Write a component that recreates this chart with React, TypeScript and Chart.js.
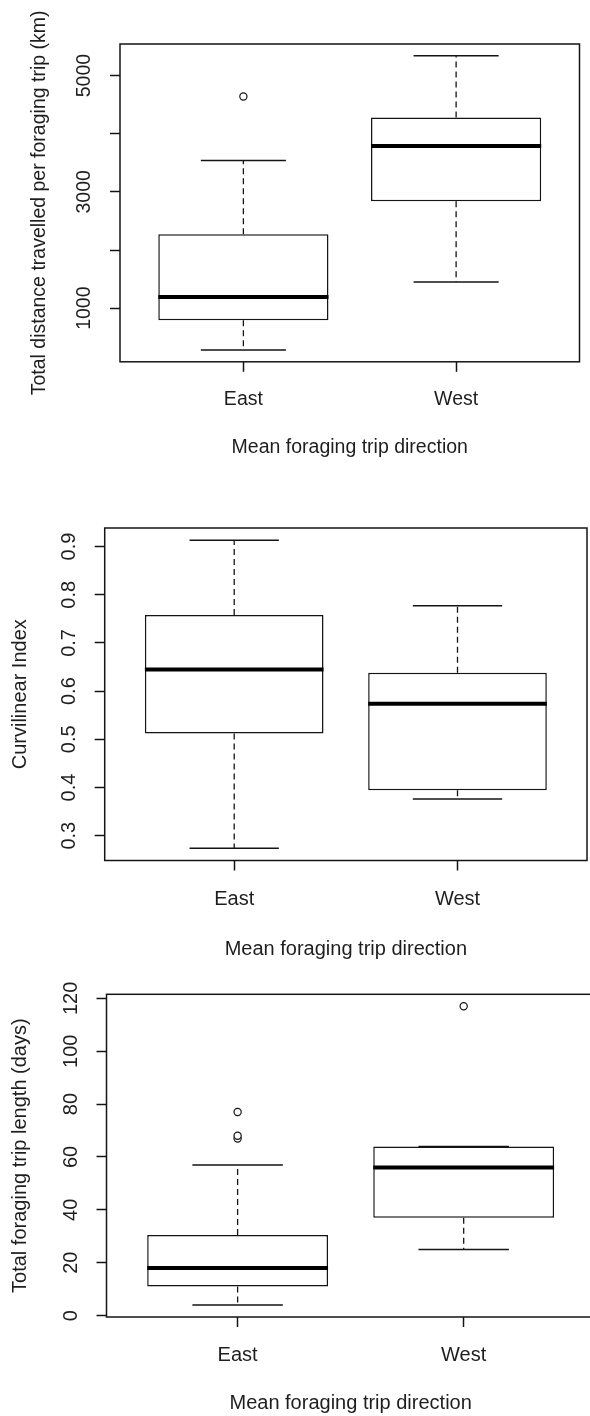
import { useEffect, useRef } from "react";
import { Chart, registerables } from "chart.js";

Chart.register(...registerables);

// ---- data -------------------------------------------------------------
const categories = ["East", "West"];
const xTitle = "Mean foraging trip direction";

// Total distance travelled per foraging trip (km)
const distanceMin = [280, 1450];
const distanceQ1 = [790, 2840];
const distanceMedian = [1190, 3790];
const distanceQ3 = [2270, 4280];
const distanceMax = [3540, 5340];
const distanceOutliers = [[4640], []];
const distanceTicks = [1000, 2000, 3000, 4000, 5000];
const distanceTickLabels = ["1000", "", "3000", "", "5000"];

// Curvilinear index
const curvMin = [0.274, 0.376];
const curvQ1 = [0.512, 0.394];
const curvMedian = [0.645, 0.574];
const curvQ3 = [0.758, 0.638];
const curvMax = [0.913, 0.777];
const curvOutliers: number[][] = [[], []];
const curvTicks = [0.3, 0.4, 0.5, 0.6, 0.7, 0.8, 0.9];
const curvTickLabels = ["0.3", "0.4", "0.5", "0.6", "0.7", "0.8", "0.9"];

// Total foraging trip length (days)
const daysMin = [4, 25];
const daysQ1 = [11, 37];
const daysMedian = [18, 56];
const daysQ3 = [30.5, 64];
const daysMax = [57, 64];
const daysOutliers = [[67, 68, 77], [117]];
const daysTicks = [0, 20, 40, 60, 80, 100, 120];
const daysTickLabels = ["0", "20", "40", "60", "80", "100", "120"];

// ---- styling ----------------------------------------------------------
const INK = "#141414";
const TEXT = "#1e1e1e";
const FONT = '"Liberation Sans", Arial, sans-serif';
const TICK = 10;
const BOX_HALF = 0.4; // boxwex 0.8
const CAP_HALF = 0.2; // staplewex 0.5

type Stats = {
  min: number[];
  q1: number[];
  median: number[];
  q3: number[];
  max: number[];
  outliers: number[][];
};

type Panel = {
  yTitle: string;
  stats: Stats;
  ticks: number[];
  tickLabels: string[];
  canvas: { top: number; width: number; height: number };
  area: { left: number; right: number; top: number; bottom: number };
  font: number;
  yTickOffset: number;
  yTitleOffset: number;
  xTickBaseline: number;
  xTitleBaseline: number;
};

const panels: Panel[] = [
  {
    yTitle: "Total distance travelled per foraging trip (km)",
    stats: {
      min: distanceMin,
      q1: distanceQ1,
      median: distanceMedian,
      q3: distanceQ3,
      max: distanceMax,
      outliers: distanceOutliers,
    },
    ticks: distanceTicks,
    tickLabels: distanceTickLabels,
    canvas: { top: 0, width: 590, height: 470 },
    area: { left: 120, right: 579.5, top: 44, bottom: 361.8 },
    font: 19.5,
    yTickOffset: 35,
    yTitleOffset: 80.5,
    xTickBaseline: 42.7,
    xTitleBaseline: 91,
  },
  {
    yTitle: "Curvilinear Index",
    stats: {
      min: curvMin,
      q1: curvQ1,
      median: curvMedian,
      q3: curvQ3,
      max: curvMax,
      outliers: curvOutliers,
    },
    ticks: curvTicks,
    tickLabels: curvTickLabels,
    canvas: { top: 470, width: 590, height: 500 },
    area: { left: 104.7, right: 587, top: 528, bottom: 860.5 },
    font: 20,
    yTickOffset: 35,
    yTitleOffset: 84,
    xTickBaseline: 44.8,
    xTitleBaseline: 94.5,
  },
  {
    yTitle: "Total foraging trip length (days)",
    stats: {
      min: daysMin,
      q1: daysQ1,
      median: daysMedian,
      q3: daysQ3,
      max: daysMax,
      outliers: daysOutliers,
    },
    ticks: daysTicks,
    tickLabels: daysTickLabels,
    canvas: { top: 970, width: 600, height: 446 },
    area: { left: 106.5, right: 595, top: 994.3, bottom: 1317 },
    font: 20,
    yTickOffset: 35,
    yTitleOffset: 86.5,
    xTickBaseline: 44.2,
    xTitleBaseline: 92.3,
  },
];

type Pt = { x: number; y: number | null };

// Frame around the plot region plus all axis text, placed with the chart's scales.
function decorations(p: Panel) {
  return {
    id: "decorations",
    afterDraw(chart: Chart) {
      const { ctx, chartArea: a, scales } = chart;
      ctx.save();
      ctx.strokeStyle = INK;
      ctx.lineWidth = 1.5;
      ctx.strokeRect(a.left, a.top, a.right - a.left, a.bottom - a.top);

      ctx.fillStyle = TEXT;
      ctx.font = `${p.font}px ${FONT}`;

      // y tick labels, parallel to the axis
      p.ticks.forEach((v, i) => {
        const label = p.tickLabels[i];
        if (!label) return;
        const y = scales.y.getPixelForValue(v);
        ctx.save();
        ctx.translate(a.left - p.yTickOffset, y);
        ctx.rotate(-Math.PI / 2);
        ctx.textAlign = "center";
        ctx.textBaseline = "middle";
        ctx.fillText(label, 0, 0);
        ctx.restore();
      });

      // category labels
      ctx.textAlign = "center";
      ctx.textBaseline = "alphabetic";
      categories.forEach((c, i) => {
        ctx.fillText(c, scales.x.getPixelForValue(i + 1), a.bottom + p.xTickBaseline);
      });

      // axis titles
      ctx.fillText(xTitle, (a.left + a.right) / 2, a.bottom + p.xTitleBaseline);
      ctx.save();
      ctx.translate(a.left - p.yTitleOffset, (a.top + a.bottom) / 2);
      ctx.rotate(-Math.PI / 2);
      ctx.textBaseline = "middle";
      ctx.fillText(p.yTitle, 0, 0);
      ctx.restore();

      ctx.restore();
    },
  };
}

function buildChart(canvas: HTMLCanvasElement, p: Panel) {
  const s = p.stats;
  const xs = categories.map((_, i) => i + 1);
  const allOut = s.outliers.flat();
  const lo = Math.min(...s.min, ...allOut);
  const hi = Math.max(...s.max, ...allOut);
  const ext = (hi - lo) * 0.04;

  const whiskers: Pt[] = [];
  const caps: Pt[] = [];
  const medians: Pt[] = [];
  const outliers: Pt[] = [];
  xs.forEach((x, i) => {
    whiskers.push({ x, y: s.q3[i] }, { x, y: s.max[i] }, { x, y: null });
    whiskers.push({ x, y: s.q1[i] }, { x, y: s.min[i] }, { x, y: null });
    caps.push({ x: x - CAP_HALF, y: s.max[i] }, { x: x + CAP_HALF, y: s.max[i] }, { x, y: null });
    caps.push({ x: x - CAP_HALF, y: s.min[i] }, { x: x + CAP_HALF, y: s.min[i] }, { x, y: null });
    medians.push({ x: x - BOX_HALF, y: s.median[i] }, { x: x + BOX_HALF, y: s.median[i] }, { x, y: null });
    s.outliers[i].forEach((v) => outliers.push({ x, y: v }));
  });

  const padding = {
    left: p.area.left - TICK,
    right: p.canvas.width - p.area.right,
    top: p.area.top - p.canvas.top,
    bottom: p.canvas.top + p.canvas.height - p.area.bottom - TICK,
  };

  return new Chart(canvas, {
    type: "bar",
    data: {
      datasets: [
        {
          type: "bar",
          data: xs.map((x, i) => ({ x, y: [s.q1[i], s.q3[i]] })) as any,
          backgroundColor: "#ffffff",
          borderColor: INK,
          borderWidth: 1.5,
          borderSkipped: false,
          categoryPercentage: 1,
          barPercentage: 2 * BOX_HALF,
          order: 4,
        },
        {
          type: "line",
          data: whiskers as any,
          borderColor: INK,
          borderWidth: 1.3,
          borderDash: [6, 4],
          pointRadius: 0,
          spanGaps: false,
          order: 3,
        },
        {
          type: "line",
          data: caps as any,
          borderColor: INK,
          borderWidth: 1.5,
          pointRadius: 0,
          spanGaps: false,
          order: 2,
        },
        {
          type: "line",
          data: medians as any,
          borderColor: "#000000",
          borderWidth: 4,
          pointRadius: 0,
          spanGaps: false,
          order: 1,
        },
        {
          type: "scatter",
          data: outliers as any,
          pointRadius: 3.6,
          pointBorderWidth: 1.2,
          pointBorderColor: INK,
          pointBackgroundColor: "#ffffff",
          order: 0,
        },
      ],
    },
    options: {
      animation: false,
      responsive: false,
      events: [],
      layout: { padding },
      plugins: { legend: { display: false }, tooltip: { enabled: false } },
      scales: {
        x: {
          type: "linear",
          position: "bottom",
          offset: false,
          min: 0.5 - 0.08,
          max: categories.length + 0.5 + 0.08,
          bounds: "data",
          afterBuildTicks: (sc: any) => {
            sc.ticks = xs.map((v) => ({ value: v }));
          },
          afterFit: (sc: any) => {
            sc.height = TICK;
          },
          ticks: { display: false },
          grid: {
            display: true,
            offset: false,
            drawOnChartArea: false,
            drawTicks: true,
            tickLength: TICK,
            tickWidth: 1.5,
            tickColor: INK,
          },
          border: { display: false },
        },
        y: {
          type: "linear",
          min: lo - ext,
          max: hi + ext,
          bounds: "data",
          afterBuildTicks: (sc: any) => {
            sc.ticks = p.ticks.map((v) => ({ value: v }));
          },
          afterFit: (sc: any) => {
            sc.width = TICK;
          },
          ticks: { display: false },
          grid: {
            display: true,
            drawOnChartArea: false,
            drawTicks: true,
            tickLength: TICK,
            tickWidth: 1.5,
            tickColor: INK,
          },
          border: { display: false },
        },
      },
    },
    plugins: [decorations(p)],
  });
}

export default function App() {
  const r0 = useRef<HTMLCanvasElement>(null);
  const r1 = useRef<HTMLCanvasElement>(null);
  const r2 = useRef<HTMLCanvasElement>(null);
  const refs = [r0, r1, r2];

  useEffect(() => {
    const charts = panels.map((p, i) => buildChart(refs[i].current as HTMLCanvasElement, p));
    return () => charts.forEach((c) => c.destroy());
  }, []);

  return (
    <div
      style={{
        position: "absolute",
        left: 0,
        top: 0,
        width: 590,
        height: 1416,
        overflow: "hidden",
        background: "#ffffff",
      }}
    >
      {panels.map((p, i) => (
        <canvas
          key={i}
          ref={refs[i]}
          width={p.canvas.width}
          height={p.canvas.height}
          style={{ position: "absolute", left: 0, top: p.canvas.top }}
        />
      ))}
    </div>
  );
}
